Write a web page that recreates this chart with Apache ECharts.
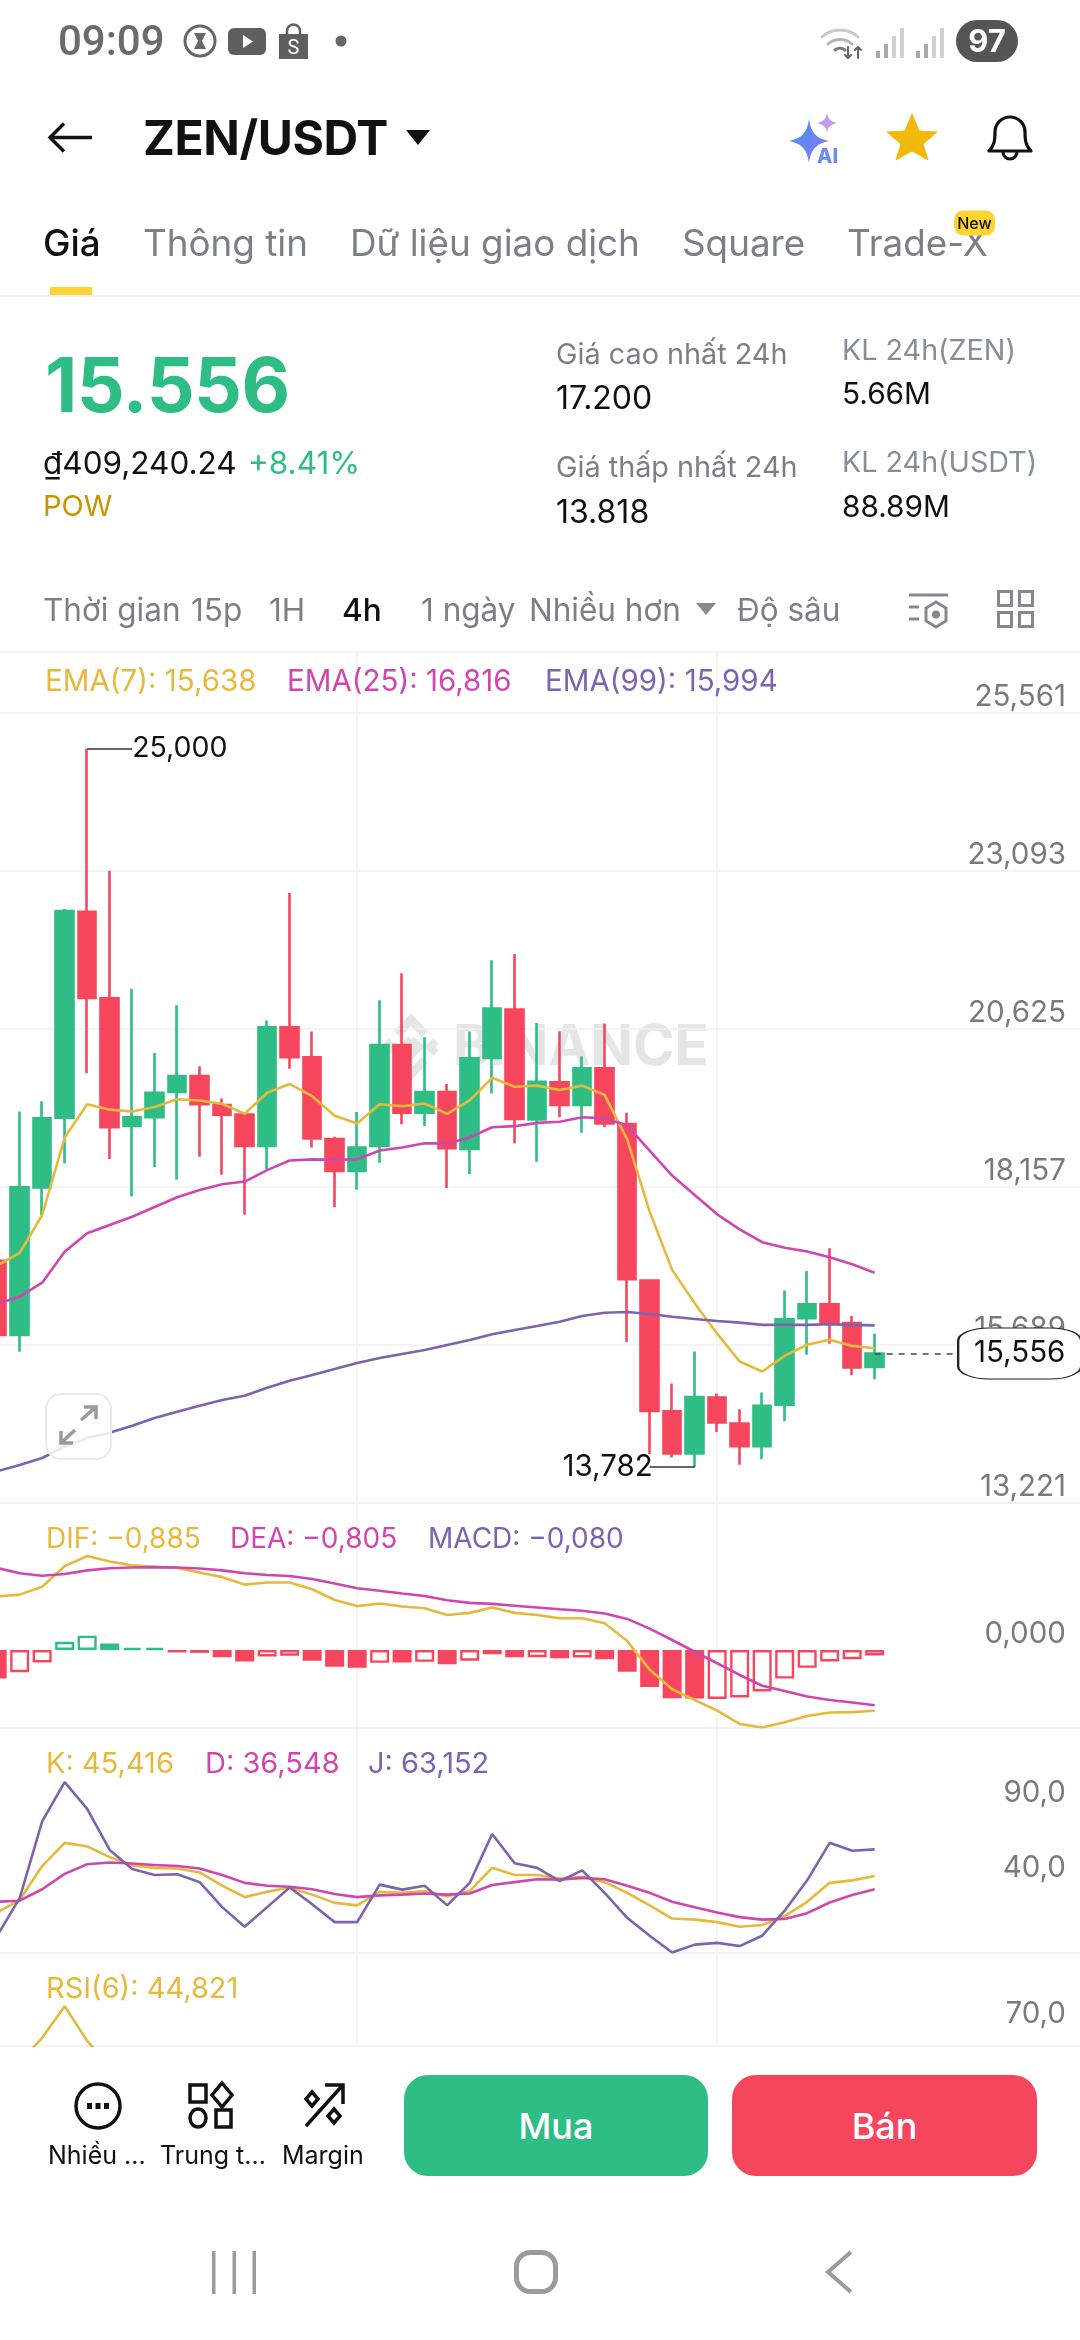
<!DOCTYPE html>
<html lang="vi">
<head>
<meta charset="utf-8">
<title>ZEN/USDT</title>
<style>
html,body{margin:0;padding:0;background:#fff;width:1080px;height:2340px;overflow:hidden;font-family:Inter,"Noto Sans",sans-serif}
#chart{position:absolute;left:0;top:0;width:1080px;height:2340px}
.t{position:absolute;white-space:nowrap;transform:translateY(-50%);line-height:1.2}
.g{color:#7b7f87}.k{color:#111}
svg.i{position:absolute;overflow:visible}
.btn{position:absolute;border-radius:24px;color:#fff;font-size:36px;font-weight:500;display:flex;align-items:center;justify-content:center}
</style>
<script src="https://cdn.jsdelivr.net/npm/echarts@6/dist/echarts.min.js"></script>
</head>
<body>
<div id="chart"></div>

<!-- status bar -->
<div class="t" style="left:58px;top:41px;font-size:42px;font-weight:500;color:#6b6b6b;font-family:Roboto">09:09</div>
<svg class="i" style="left:183px;top:24px" width="34" height="34" viewBox="0 0 34 34"><circle cx="17" cy="17" r="15" fill="none" stroke="#666" stroke-width="3"/><path d="M11 9h12l-4 8 4 8H11l4-8z" fill="#666"/></svg>
<svg class="i" style="left:228px;top:28px" width="38" height="27" viewBox="0 0 38 27"><rect width="38" height="27" rx="6" fill="#5f5f5f"/><path d="M15 7l10 6.5L15 20z" fill="#fff"/></svg>
<svg class="i" style="left:278px;top:25px" width="31" height="34" viewBox="0 0 31 34"><path d="M1 9h29v25H1z" fill="#5f5f5f"/><path d="M9 9V6a6 6 0 0 1 13 0v3" fill="none" stroke="#5f5f5f" stroke-width="2.5"/><text x="15.5" y="29" font-size="20" fill="#fff" text-anchor="middle" font-family="Roboto">S</text></svg>
<svg class="i" style="left:335px;top:35px" width="12" height="12"><circle cx="6" cy="6" r="5.5" fill="#666"/></svg>
<svg class="i" style="left:820px;top:25px" width="45" height="35" viewBox="0 0 45 35" fill="none" stroke-linecap="round"><path d="M2 12a27 27 0 0 1 36 0" stroke="#c9c9c9" stroke-width="3"/><path d="M8 19a18 18 0 0 1 24 0" stroke="#b5b5b5" stroke-width="3"/><path d="M15 25a8 8 0 0 1 10 0" stroke="#777" stroke-width="3"/><path d="M28 22v11m-3-3l3 3 3-3M38 33V22m-3 3l3-3 3 3" stroke="#666" stroke-width="2"/></svg>
<svg class="i" style="left:875px;top:27px" width="72" height="31" viewBox="0 0 72 31"><g fill="#a9a9a9"><rect x="1" y="24" width="4" height="7"/><rect x="9" y="17" width="4" height="14"/><rect x="17" y="9" width="4" height="22" fill="#cfcfcf"/><rect x="25" y="1" width="4" height="30" fill="#cfcfcf"/><rect x="41" y="24" width="4" height="7"/><rect x="49" y="17" width="4" height="14"/><rect x="57" y="9" width="4" height="22" fill="#cfcfcf"/><rect x="65" y="1" width="4" height="30" fill="#cfcfcf"/></g></svg>
<div class="t" style="left:956px;top:41px;width:62px;height:42px;border-radius:21px;background:#555;color:#fff;font-size:31px;font-weight:700;text-align:center;line-height:42px">97</div>

<!-- nav -->
<svg class="i" style="left:48px;top:122px" width="44" height="31" viewBox="0 0 44 31" fill="none" stroke="#111" stroke-width="3.5"><path d="M44 15.5H2M16 1.5L2 15.5l14 14"/></svg>
<div class="t k" style="left:143px;top:138px;font-size:48px;font-weight:700;letter-spacing:-.4px">ZEN/USDT</div>
<svg class="i" style="left:406px;top:130px" width="24" height="15"><path d="M0 0h24L12 15z" fill="#111"/></svg>
<svg class="i" style="left:789px;top:113px" width="54" height="50" viewBox="0 0 54 50"><defs><linearGradient id="ai" x1="0" y1="0" x2="1" y2="1"><stop offset="0" stop-color="#3f8ff7"/><stop offset="1" stop-color="#8f7cf0"/></linearGradient></defs><path d="M20 6c2 14 7 19 20 22-13 3-18 8-20 22-2-14-7-19-20-22 13-3 18-8 20-22z" fill="url(#ai)"/><path d="M38 0c1 6 3 8 10 10-7 2-9 4-10 10-1-6-3-8-10-10 7-2 9-4 10-10z" fill="#c69ae8"/><text x="28" y="50" font-size="20" font-weight="800" fill="#6f8cf5" font-family="Inter">AI</text></svg>
<svg class="i" style="left:887px;top:114px" width="50" height="46" viewBox="0 0 50 46"><path d="M25 0l7 17 18 1-14 12 5 16-16-9-16 9 5-16L0 18l18-1z" fill="#f0b90b" stroke="#f0b90b" stroke-linejoin="round" stroke-width="1"/></svg>
<svg class="i" style="left:987px;top:113px" width="46" height="48" viewBox="0 0 46 48" fill="none" stroke="#111" stroke-width="3.2"><path d="M2 38c5-5 6-10 6-19a15 15 0 0 1 30 0c0 9 1 14 6 19z" stroke-linejoin="round"/><path d="M16 39a7 7 0 0 0 14 0"/></svg>

<!-- tabs -->
<div class="t k" style="left:43px;top:243px;font-size:36.8px;font-weight:500">Giá</div>
<div class="t g" style="left:143px;top:243px;font-size:36.8px">Thông tin</div>
<div class="t g" style="left:350px;top:243px;font-size:36.8px">Dữ liệu giao dịch</div>
<div class="t g" style="left:682px;top:243px;font-size:36.8px">Square</div>
<div class="t g" style="left:847px;top:243px;font-size:36.8px">Trade-X</div>
<div class="t" style="left:954px;top:223px;width:41px;height:25px;border-radius:9px;background:#fcd535;color:#111;font-size:16px;font-weight:500;text-align:center;line-height:25px">New</div>
<div style="position:absolute;left:50px;top:287px;width:42px;height:8px;background:#fcd535"></div>
<div style="position:absolute;left:0;top:295px;width:1080px;height:1.5px;background:#eef0f2"></div>

<!-- ticker -->
<div class="t" style="left:45px;top:385px;font-size:75px;font-weight:700;color:#2ebd85;letter-spacing:-.5px">15.556</div>
<div class="t k" style="left:43px;top:463px;font-size:31.5px">₫409,240.24</div>
<div class="t" style="left:248px;top:463px;font-size:31.5px;color:#2ebd85">+8.41%</div>
<div class="t" style="left:43px;top:506px;font-size:29px;color:#c99400">POW</div>
<div class="t g" style="left:556px;top:354px;font-size:28.8px">Giá cao nhất 24h</div>
<div class="t k" style="left:556px;top:398px;font-size:32px">17.200</div>
<div class="t g" style="left:556px;top:467px;font-size:28.8px">Giá thấp nhất 24h</div>
<div class="t k" style="left:556px;top:512px;font-size:32px">13.818</div>
<div class="t" style="left:842px;top:350px;font-size:28.7px;color:#848e9c">KL 24h(ZEN)</div>
<div class="t k" style="left:842px;top:394px;font-size:29.8px">5.66M</div>
<div class="t" style="left:842px;top:462px;font-size:28.7px;color:#848e9c">KL 24h(USDT)</div>
<div class="t k" style="left:842px;top:507px;font-size:29.8px">88.89M</div>

<!-- interval row -->
<div class="t g" style="left:43px;top:610px;font-size:31.5px">Thời gian</div>
<div class="t g" style="left:191px;top:610px;font-size:31.5px">15p</div>
<div class="t g" style="left:269px;top:610px;font-size:31.5px">1H</div>
<div class="t k" style="left:342px;top:610px;font-size:31.5px;font-weight:500">4h</div>
<div class="t g" style="left:421px;top:610px;font-size:31.5px">1 ngày</div>
<div class="t g" style="left:529px;top:610px;font-size:31.5px">Nhiều hơn</div>
<svg class="i" style="left:696px;top:603px" width="20" height="12"><path d="M0 0h20L10 12z" fill="#8a8a8a"/></svg>
<div class="t g" style="left:737px;top:610px;font-size:31.5px">Độ sâu</div>
<svg class="i" style="left:909px;top:593px" width="39" height="36" viewBox="0 0 39 36" fill="none" stroke="#85898f" stroke-width="3"><path d="M0 2h39M0 14h10M0 26h10"/><path d="M27 9l10 6v13l-10 6-10-6V15z"/><circle cx="27" cy="21.5" r="2.5" fill="#85898f"/></svg>
<svg class="i" style="left:997px;top:590px" width="37" height="38" viewBox="0 0 37 38" fill="none" stroke="#85898f" stroke-width="3"><rect x="1.5" y="1.5" width="13" height="14"/><rect x="22.5" y="1.5" width="13" height="14"/><rect x="1.5" y="22.5" width="13" height="14"/><rect x="22.5" y="22.5" width="13" height="14"/></svg>

<!-- expand button over the chart -->
<div style="position:absolute;left:45px;top:1393px;width:63px;height:63px;border:2px solid #e9e9ee;border-radius:16px;background:rgba(255,255,255,.85)"></div>
<svg class="i" style="left:58px;top:1405px" width="40" height="40" viewBox="0 0 40 40" fill="none" stroke="#9a9a9a" stroke-width="3.5"><path d="M23 15L38 2M26 2h12v12M17 25L3 38M3 26v12h12"/></svg>

<!-- bottom toolbar -->
<svg class="i" style="left:74px;top:2082px" width="48" height="48" viewBox="0 0 48 48"><circle cx="24" cy="24" r="22" fill="none" stroke="#111" stroke-width="3.5"/><g fill="#111"><rect x="13" y="21" width="5" height="6"/><rect x="21.5" y="21" width="5" height="6"/><rect x="30" y="21" width="5" height="6"/></g></svg>
<svg class="i" style="left:188px;top:2082px" width="46" height="47" viewBox="0 0 46 47" fill="none" stroke="#111" stroke-width="3.5"><rect x="2" y="3" width="16" height="17"/><path d="M34 1l10 12-10 12-10-12z"/><ellipse cx="10" cy="36" rx="8" ry="9"/><rect x="28" y="28" width="15" height="17"/></svg>
<svg class="i" style="left:303px;top:2082px" width="42" height="46" viewBox="0 0 42 46" fill="none" stroke="#111" stroke-width="3.5"><path d="M3 44L39 4M22 3h18v19"/><path d="M9 10l6 7-6 7-6-7zM31 27l6 7-6 7-6-7z"/></svg>
<div class="t k" style="left:48px;top:2155px;font-size:25px">Nhiều ...</div>
<div class="t k" style="left:160px;top:2155px;font-size:25px">Trung t...</div>
<div class="t k" style="left:282px;top:2155px;font-size:25px">Margin</div>
<div class="btn" style="left:404px;top:2075px;width:304px;height:101px;background:#2ebd85">Mua</div>
<div class="btn" style="left:732px;top:2075px;width:305px;height:101px;background:#f6465d">Bán</div>

<!-- android nav -->
<svg class="i" style="left:211px;top:2251px" width="46" height="43"><g fill="#9b9b9b"><rect x="1" width="3.5" height="43"/><rect x="21.5" width="3.5" height="43"/><rect x="41.5" width="3.5" height="43"/></g></svg>
<svg class="i" style="left:514px;top:2250px" width="44" height="44"><rect x="2.5" y="2.5" width="39" height="39" rx="14" fill="none" stroke="#9b9b9b" stroke-width="5"/></svg>
<svg class="i" style="left:825px;top:2250px" width="28" height="44"><path d="M26 2L3 22l23 20" fill="none" stroke="#9b9b9b" stroke-width="4"/></svg>

<script>
// --- chart data (first element is the candle cut off by the left edge) ---
const opens  = [17.004,15.844,18.150,19.238,22.453,21.102,19.107,19.244,19.638,19.889,19.435,19.286,18.796,20.648,20.182,18.903,18.407,18.796,20.373,19.316,19.638,18.748,20.170,20.925,19.209,19.790,19.435,20.007,19.140,16.696,14.652,13.993,14.868,14.461,14.106,14.756,16.107,16.324,16.029,15.345];
const closes = [15.844,18.150,19.226,22.465,21.108,19.089,19.244,19.627,19.889,19.447,19.286,18.796,20.648,20.182,18.915,18.407,18.772,20.373,19.316,19.638,18.760,20.164,20.941,19.218,19.799,19.435,20.007,19.149,16.714,14.660,13.993,14.877,14.478,14.106,14.738,16.090,16.324,16.021,15.336,15.556];
const lows   = [15.750,15.583,17.718,18.527,19.931,18.592,18.007,18.467,18.270,18.628,18.348,17.720,18.437,20.003,18.772,17.840,18.114,18.533,19.136,19.107,18.138,18.360,19.614,18.837,18.551,19.244,19.002,19.088,15.735,13.985,13.932,13.782,14.331,13.820,13.906,14.496,15.536,15.709,15.215,15.154];
const highs  = [17.100,19.334,19.495,22.495,25.000,23.092,21.252,20.248,20.995,20.039,19.537,19.300,20.756,22.746,20.582,18.939,19.327,21.073,21.491,20.493,19.764,20.582,21.694,21.792,20.717,20.587,20.197,20.708,19.313,16.700,15.085,15.588,14.929,14.686,14.946,16.541,16.844,17.200,16.142,15.865];

const ema7  = [16.926,17.125,17.718,18.927,19.447,19.363,19.334,19.405,19.525,19.507,19.453,19.298,19.627,19.764,19.573,19.268,19.148,19.447,19.417,19.459,19.298,19.507,19.860,19.721,19.738,19.669,19.738,19.591,18.898,17.771,16.861,16.341,15.865,15.431,15.275,15.518,15.692,15.769,15.674,15.638];
const ema25 = [16.333,16.442,16.661,17.145,17.432,17.562,17.691,17.843,17.995,18.108,18.198,18.240,18.419,18.569,18.587,18.581,18.587,18.724,18.772,18.838,18.832,18.930,19.088,19.105,19.157,19.175,19.244,19.227,19.114,18.724,18.334,18.031,17.728,17.494,17.294,17.208,17.147,17.060,16.948,16.816];
const ema99 = [13.716,13.814,13.924,14.100,14.236,14.319,14.428,14.548,14.647,14.740,14.829,14.896,15.021,15.131,15.220,15.313,15.407,15.485,15.548,15.610,15.688,15.766,15.855,15.922,15.985,16.052,16.141,16.192,16.203,16.172,16.130,16.094,16.063,16.038,16.003,16.003,16.003,16.012,16.003,15.994];

const dif = [0.781,0.807,0.921,1.223,1.369,1.291,1.234,1.213,1.197,1.130,1.062,0.953,0.984,0.984,0.885,0.729,0.640,0.677,0.635,0.609,0.510,0.541,0.620,0.541,0.510,0.463,0.463,0.390,0.130,-0.286,-0.573,-0.729,-0.885,-1.078,-1.130,-1.052,-0.963,-0.911,-0.906,-0.885];
const dea = [1.197,1.119,1.083,1.109,1.161,1.192,1.203,1.208,1.203,1.187,1.161,1.119,1.093,1.078,1.036,0.968,0.901,0.864,0.823,0.786,0.724,0.687,0.672,0.646,0.620,0.594,0.573,0.531,0.453,0.312,0.146,-0.026,-0.193,-0.364,-0.521,-0.599,-0.677,-0.729,-0.765,-0.805];
const macdHist = [-0.416,-0.323,-0.182,0.120,0.208,0.094,0.031,0.031,-0.036,-0.042,-0.104,-0.167,-0.094,-0.083,-0.156,-0.245,-0.260,-0.187,-0.182,-0.172,-0.208,-0.156,-0.062,-0.104,-0.104,-0.120,-0.109,-0.135,-0.318,-0.541,-0.703,-0.708,-0.713,-0.692,-0.604,-0.416,-0.260,-0.167,-0.135,-0.080];
const macdFilled = [1,0,0,0,0,1,1,1,1,1,1,1,0,0,1,1,1,0,1,0,1,0,0,1,0,1,0,1,1,1,1,1,0,0,0,0,0,0,0,0];

const kLine = [21.07,29.41,52.02,67.50,65.12,57.98,52.50,50.83,50.36,47.74,38.93,31.31,34.88,37.74,32.98,27.50,25.83,34.88,34.17,35.36,31.79,35.36,50.83,46.07,46.07,43.69,44.88,41.31,34.17,25.83,17.02,16.31,14.64,11.55,12.74,18.69,28.21,40.83,42.50,45.416];
const dLine = [28.21,28.93,36.55,46.79,53.21,54.40,53.69,52.74,52.02,50.36,46.07,40.83,38.93,38.21,36.55,33.45,31.31,32.50,32.98,33.69,32.98,33.69,39.40,41.31,43.21,42.98,44.17,43.21,38.93,34.17,28.21,24.64,21.07,17.98,16.31,16.79,20.60,27.74,32.74,36.548];
const jLine = [5.60,30.60,81.79,107.98,90.12,62.74,50.12,46.07,46.55,41.31,24.64,11.55,24.64,37.74,26.55,14.64,14.64,39.64,36.31,38.93,25.83,40.83,73.45,53.93,50.83,42.02,49.17,34.17,17.50,5.60,-5.60,-0.36,0.83,-1.31,5.60,22.26,42.50,67.50,62.26,63.152];
// RSI is only visible around its first peak; the rest sits behind the toolbar
const rsi6 = [null,52,65.6,83.1,63.9,50,null];

const categories = Array.from({length:49},(_,i)=>String(i));
const priceTicks = [13.221,15.689,18.157,20.625,23.093,25.561];
const macdTicks = [0];
const kdjTicks = [40,90];
const rsiTicks = [70];
const lastPrice = 15.556, highMark = 25.000, lowMark = 13.782;
const highIndex = 4, lowIndex = 31, lastIndex = 39;

// --- styling ---
const GOLD='#e6b93c', PINK='#d046b0', PURPLE='#7f62ae', GREEN='#2ebd85', RED='#f6465d', GRID='#f0f1f3', AXIS='#777a7e';
const FONT='Inter, "Noto Sans", sans-serif';
const chart = echarts.init(document.getElementById('chart'),null,{renderer:'canvas'});

const gridsLayout=[[652,851],[1503,224.5],[1727.5,225],[1952.5,93.5]];
const grids=gridsLayout.map(([top,height])=>({left:-14.08,top,width:1102.5,height,outerBoundsMode:'none',containLabel:false}));
const xAxes=grids.map((_,i)=>({type:'category',gridIndex:i,data:categories,boundaryGap:true,
  axisLine:{show:false},axisTick:{show:false},axisLabel:{show:false},
  splitLine:{show:true,alignWithLabel:true,interval:(idx)=>idx===16||idx===32,lineStyle:{color:GRID,width:1.5}}}));
function yAxis(i,min,max,labels,decimals,extra){
  return {type:'value',gridIndex:i,position:'right',min,max,scale:true,
    axisLine:{show:false},
    axisTick:{show:false,customValues:[min,...labels,max].filter((v,j,a)=>a.indexOf(v)===j&&!(extra===false&&labels.includes(v)))},
    axisLabel:{show:true,inside:true,customValues:labels,margin:22.5,color:AXIS,fontSize:29.5,fontFamily:FONT,verticalAlign:'bottom',padding:[0,0,1,0],
      formatter:v=>v.toFixed(decimals).replace('.',',')},
    splitLine:{show:true,lineStyle:{color:GRID,width:1.5}}};
}
const yAxes=[yAxis(0,13.221,26.509,priceTicks,3,true),yAxis(1,-1.130,2.143,macdTicks,3,false),yAxis(2,-5.6,144.4,kdjTicks,1,false),yAxis(3,61.06,113,rsiTicks,1,false)];

function line(name,data,color,g){return {name,type:'line',data,xAxisIndex:g,yAxisIndex:g,symbol:'none',smooth:false,connectNulls:false,clip:true,lineStyle:{color,width:2.6},z:4,silent:true};}

const candleData=opens.map((o,i)=>[o,closes[i],lows[i],highs[i]]);
const barData=macdHist.map((v,i)=>{const c=v>=0?GREEN:RED;return {value:v,itemStyle:{color:macdFilled[i]?c:'#fff',borderColor:c,borderWidth:2.4}};});

const sideText=(x,y,text,fill,size)=>({type:'text',x,y,z:10,style:{text,fill,font:size+'px '+FONT,verticalAlign:'middle'}});
const wm='#e5e5e6';
const chevron=(pts,w)=>({type:'polyline',z:0,shape:{points:pts},style:{stroke:wm,lineWidth:w,fill:null}});

const markLabel=(text,dist,size)=>({show:true,position:'end',distance:dist,padding:[3,0,0,0],formatter:text,color:'#111',fontSize:size,fontFamily:FONT});

chart.setOption({
  animation:false,
  textStyle:{fontFamily:FONT},
  grid:grids,xAxis:xAxes,yAxis:yAxes,
  graphic:{elements:[
    chevron([[397,1034],[411,1020],[425,1034]],9),
    chevron([[397,1060],[411,1074],[425,1060]],9),
    chevron([[386,1041],[392,1047],[386,1053]],8),
    chevron([[436,1041],[430,1047],[436,1053]],8),
    chevron([[411,1039],[419,1047],[411,1055],[403,1047],[411,1039]],8),
    {type:'text',x:453,y:1048,z:0,style:{text:'BINANCE',fill:wm,font:'700 56px '+FONT,verticalAlign:'middle'}},
    sideText(45,682.5,'EMA(7): 15,638',GOLD,29.5),
    sideText(287,682.5,'EMA(25): 16,816',PINK,29.5),
    sideText(545,682.5,'EMA(99): 15,994',PURPLE,29.5),
    sideText(46,1539.5,'DIF: −0,885',GOLD,28),
    sideText(230,1539.5,'DEA: −0,805',PINK,28),
    sideText(428,1539.5,'MACD: −0,080',PURPLE,28),
    sideText(46,1764.5,'K: 45,416',GOLD,29),
    sideText(205,1764.5,'D: 36,548',PINK,29),
    sideText(368,1764.5,'J: 63,152',PURPLE,29),
    sideText(46,1989,'RSI(6): 44,821',GOLD,29)
  ]},
  series:[
    {type:'candlestick',name:'ZEN/USDT',data:candleData,xAxisIndex:0,yAxisIndex:0,barWidth:18,silent:true,z:3,
      itemStyle:{color:GREEN,color0:RED,borderColor:GREEN,borderColor0:RED,borderWidth:2.6},
      markLine:{silent:true,symbol:'none',animation:false,z:6,data:[
        [{coord:[categories[highIndex],highMark],lineStyle:{color:'#333',width:1.5,type:'solid'},label:markLabel('25,000',0,28.5)},{coord:[categories[highIndex+2],highMark]}],
        [{coord:[categories[lowIndex],lowMark],lineStyle:{color:'#333',width:1.5,type:'solid'},label:markLabel('13,782',-3,29.5)},{coord:[categories[lowIndex-2],lowMark]}],
        [{coord:[categories[lastIndex],lastPrice],lineStyle:{color:'#444',width:1.5,type:[6,6]},label:{show:false}},{coord:[categories[lastIndex+4],lastPrice]}]
      ]},
      markPoint:{silent:true,animation:false,z:7,data:[{coord:[categories[lastIndex+6],lastPrice],symbol:'roundRect',symbolSize:[123,51],symbolOffset:[10,0],
        itemStyle:{color:'#fff',borderColor:'#222',borderWidth:1.5},
        label:{show:true,position:'inside',formatter:'15,556',color:'#111',fontSize:29.5,fontFamily:FONT}}]}
    },
    line('EMA(7)',ema7,GOLD,0),line('EMA(25)',ema25,PINK,0),line('EMA(99)',ema99,PURPLE,0),
    {type:'bar',name:'MACD',data:barData,xAxisIndex:1,yAxisIndex:1,barWidth:19,silent:true,z:3},
    line('DIF',dif,GOLD,1),line('DEA',dea,PINK,1),
    line('K',kLine,GOLD,2),line('D',dLine,PINK,2),line('J',jLine,PURPLE,2),
    line('RSI(6)',rsi6,GOLD,3)
  ]
});
</script>
</body>
</html>
